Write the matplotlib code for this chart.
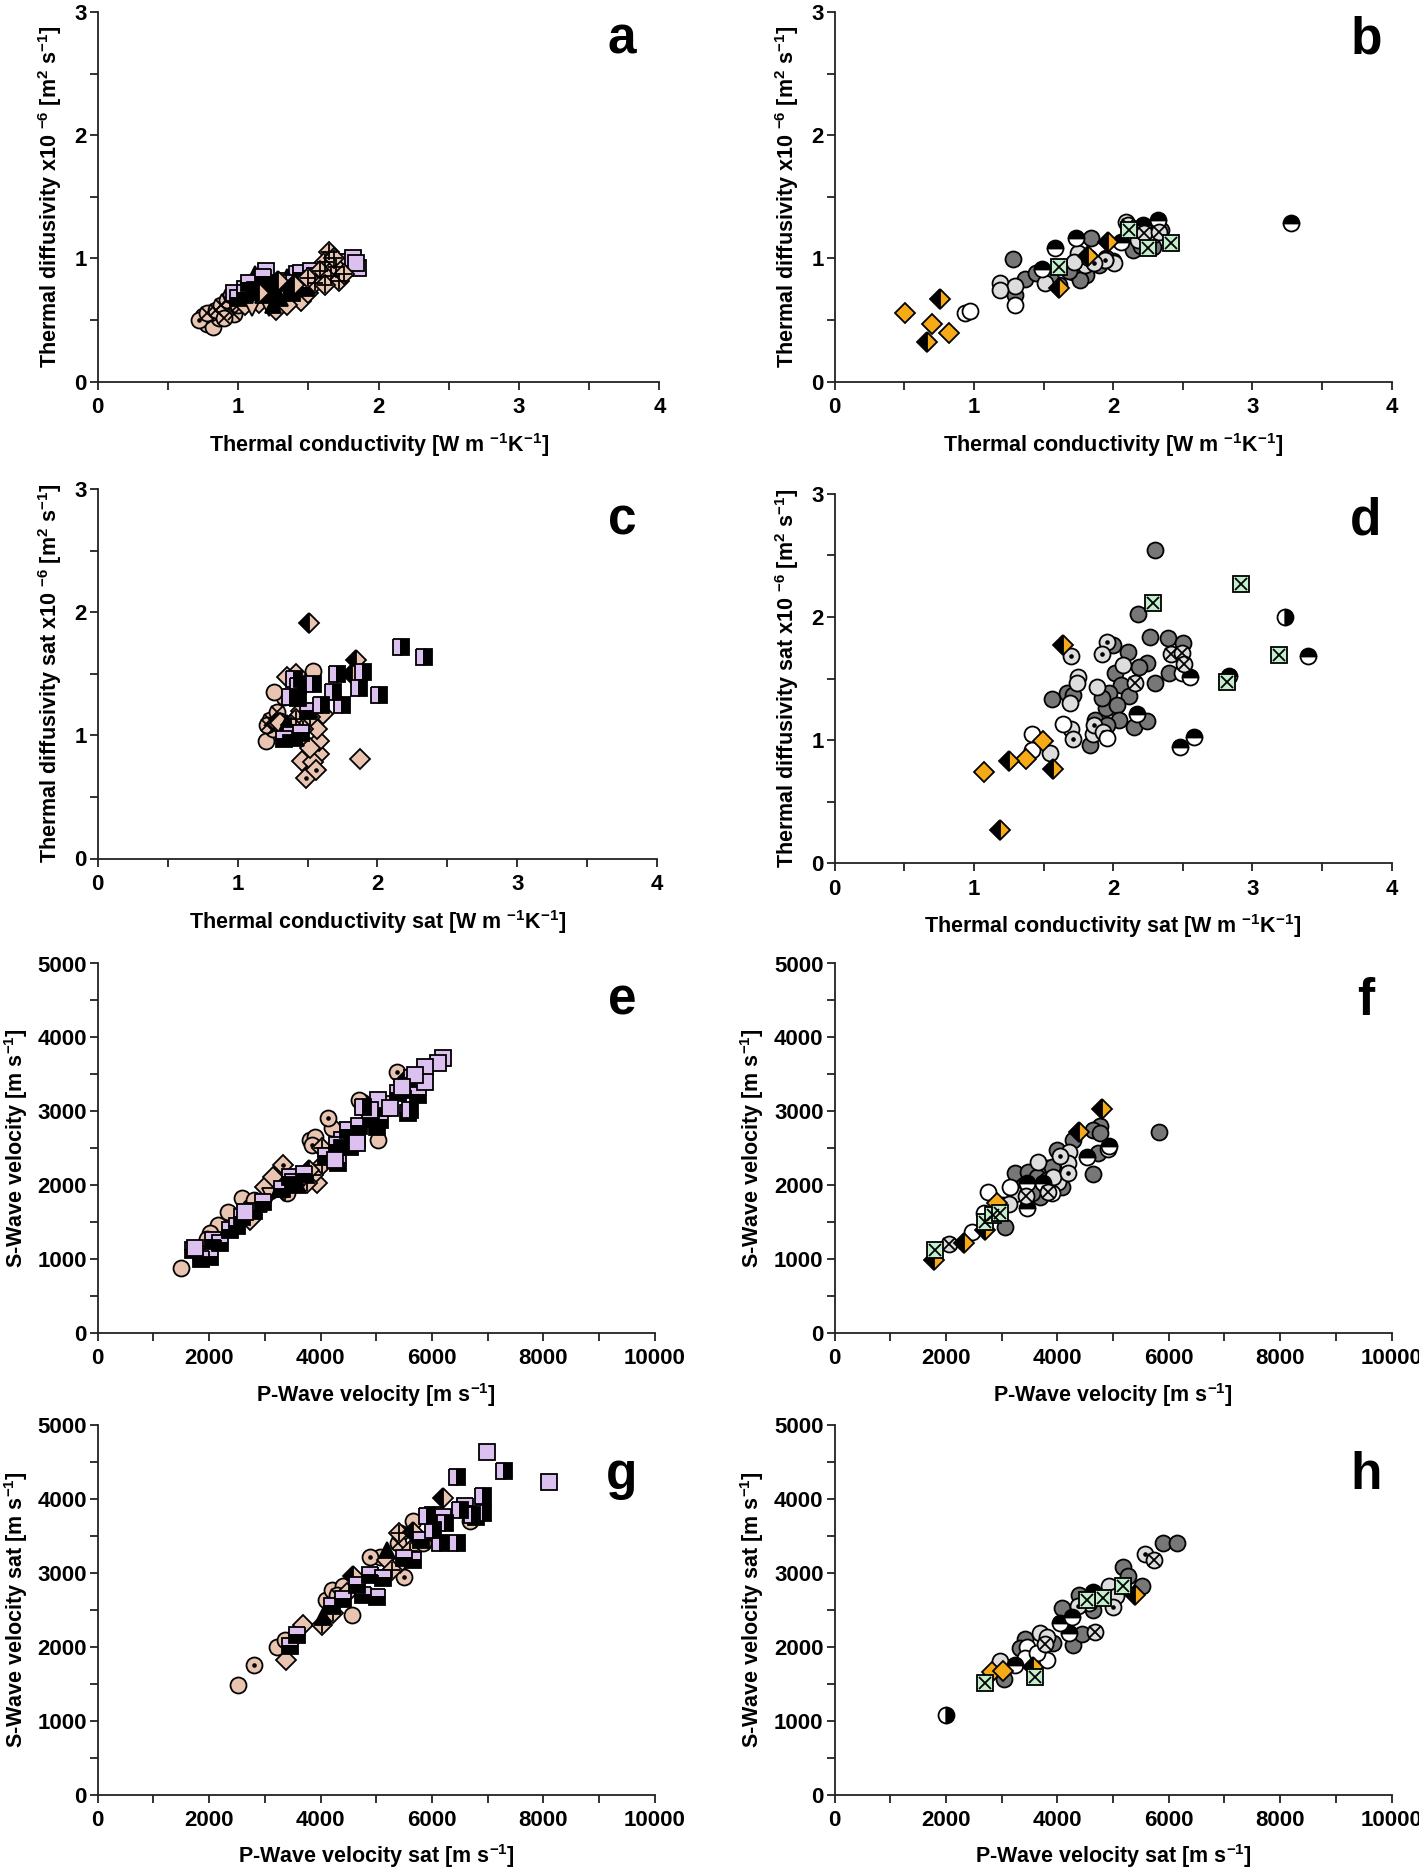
import matplotlib
matplotlib.use('Agg')
import matplotlib.pyplot as plt
from matplotlib.ticker import MultipleLocator

plt.rcParams['font.family'] = ['Liberation Sans', 'DejaVu Sans']
plt.rcParams['font.weight'] = 'bold'
plt.rcParams['mathtext.default'] = 'regular'

# colours of the sample groups
TAN = '#e9c5b1'
LAV = '#dcc0ef'
DGREY = '#777777'
LGREY = '#dddddd'
ORANGE = '#f6ab16'
GREEN = '#c3efcd'

# ---------------- data ----------------
# panel a : thermal diffusivity vs thermal conductivity (dry), group 1
a_circ = ([0.78, 0.82, 0.86, 0.75, 0.93], [0.47, 0.44, 0.52, 0.53, 0.60])
a_circ_dot = ([0.72, 0.80], [0.50, 0.56])
a_circ_x = ([0.78, 0.84, 0.88, 0.92, 0.97, 1.00, 0.90, 0.95], [0.56, 0.58, 0.62, 0.66, 0.55, 0.62, 0.52, 0.70])
a_dia = ([1.15, 1.27, 1.45, 1.35, 1.05, 1.50], [0.64, 0.58, 0.65, 0.62, 0.62, 0.72])
a_dia_plus = ([1.65, 1.62, 1.58, 1.66, 1.72, 1.70, 1.55, 1.62, 1.75, 1.50, 1.68], [1.05, 0.97, 0.90, 0.86, 0.82, 0.93, 0.80, 0.78, 0.87, 0.84, 1.00])
a_tri_dn = ([1.10, 1.20, 1.28, 1.22, 1.32], [0.60, 0.70, 0.78, 0.60, 0.74])
a_tri_up = ([1.12, 1.18, 1.25, 1.30, 1.10, 1.35, 1.45, 1.20, 1.05], [0.87, 0.70, 0.62, 0.68, 0.78, 0.85, 0.82, 0.80, 0.70])
a_dia_half = ([1.28, 1.60, 1.40, 1.15], [0.82, 0.90, 0.78, 0.72])
a_sq_top = ([1.00, 1.08, 1.12, 1.18, 1.30, 1.45, 1.48, 1.38, 1.58, 1.25, 1.52, 1.05, 1.40, 1.55, 1.22],
            [0.68, 0.80, 0.74, 0.85, 0.80, 0.88, 0.76, 0.72, 0.83, 0.73, 0.90, 0.72, 0.80, 0.86, 0.78])
a_sq = ([0.97, 1.05, 1.20, 1.35, 1.42, 1.60, 1.78, 1.82, 1.85, 1.84], [0.72, 0.75, 0.90, 0.82, 0.87, 0.90, 0.97, 1.00, 0.92, 0.96])

# panel b : thermal diffusivity vs thermal conductivity (dry), group 2
b_dark = ([1.28, 1.365, 1.449, 1.294, 1.614, 1.711, 1.807, 1.902, 2.142, 2.285, 2.345, 1.759, 1.843, 1.55, 1.68, 2.00, 1.95, 2.20],
          [0.996, 0.83, 0.879, 0.703, 0.785, 0.893, 0.866, 0.947, 1.069, 1.096, 1.231, 0.825, 1.163, 0.86, 0.90, 0.98, 1.00, 1.10])
b_light = ([1.186, 1.294, 1.509, 1.795, 1.748, 2.01, 1.939, 1.186, 2.094, 2.285, 1.72, 1.83, 2.18],
           [0.798, 0.777, 0.798, 0.947, 1.042, 0.96, 0.988, 0.744, 1.299, 1.19, 0.97, 1.00, 1.15])
b_dot = ([1.94, 1.86], [0.99, 0.96])
b_white = ([0.935, 0.971, 1.294], [0.56, 0.576, 0.622])
b_half = ([3.276, 1.58, 1.735, 2.058, 2.321, 2.213, 1.49], [1.29, 1.082, 1.163, 1.136, 1.312, 1.272, 0.91])
b_cx = ([2.225, 2.333, 2.11], [1.204, 1.217, 1.27])
b_odia = ([0.506, 0.70, 0.823], [0.555, 0.468, 0.392])
b_ohalf = ([0.756, 0.661, 1.962, 1.611, 1.82], [0.668, 0.319, 1.136, 0.758, 1.02])
b_green = ([1.611, 2.111, 2.249, 2.416], [0.928, 1.231, 1.082, 1.128])

# panel c : saturated thermal properties, group 1
c_circ = ([1.33, 1.54, 1.35, 1.20, 1.26], [1.31, 1.52, 1.02, 0.95, 1.35])
c_circ_x = ([1.23, 1.28, 1.25, 1.21, 1.30], [1.125, 1.19, 1.05, 1.08, 1.12])
c_dia = ([1.875, 1.46, 1.58, 1.54, 1.58, 1.57, 1.42, 1.35, 1.61, 1.30, 1.45, 1.52],
         [0.805, 0.79, 0.85, 0.78, 0.95, 1.05, 1.50, 1.47, 1.17, 1.10, 1.20, 0.90])
c_dia_dot = ([1.49, 1.56], [0.65, 0.72])
c_dia_plus = ([1.42, 1.52, 1.47, 1.38], [1.13, 1.15, 1.05, 1.08])
c_tri_up = ([1.42, 1.35], [0.98, 1.10])
c_sq_top = ([1.38, 1.45, 1.33, 1.50], [1.00, 1.02, 0.97, 1.20])
c_dia_half = ([1.513, 1.85, 1.82], [1.91, 1.61, 1.50])
c_sq_half = ([2.17, 2.336, 2.01, 1.90, 1.87, 1.744, 1.71, 1.40, 1.54, 1.43, 1.375, 1.43, 1.60, 1.68],
             [1.72, 1.634, 1.33, 1.51, 1.38, 1.247, 1.50, 1.46, 1.42, 1.30, 1.31, 1.40, 1.25, 1.35])

# panel d : saturated thermal properties, group 2
d_dark = ([2.301, 2.181, 2.265, 2.397, 2.50, 2.109, 2.241, 2.188, 2.014, 2.054, 1.973, 2.117, 1.949, 2.026, 2.045, 2.15, 2.241, 1.834,
           1.559, 1.666, 1.714, 2.301, 2.404, 1.87, 1.954, 1.918, 2.002],
          [2.543, 2.023, 1.839, 1.826, 1.785, 1.718, 1.623, 1.596, 1.542, 1.447, 1.379, 1.358, 1.258, 1.285, 1.163, 1.104, 1.158, 0.96,
           1.331, 1.379, 1.366, 1.461, 1.547, 1.163, 1.122, 1.339, 1.772])
d_light = ([2.074, 1.75, 1.887, 1.69, 1.695, 1.853, 1.547, 1.743], [1.609, 1.515, 1.434, 1.298, 1.087, 1.049, 0.898, 1.46])
d_dot = ([1.954, 1.923, 1.695, 1.714, 1.865, 1.93], [1.799, 1.699, 1.682, 1.006, 1.122, 1.068])
d_white = ([1.415, 1.415, 1.642, 1.954, 2.493], [1.049, 0.919, 1.13, 1.014, 1.542])
d_half = ([3.403, 2.481, 2.584, 2.174, 2.552, 2.835], [1.682, 0.946, 1.028, 1.209, 1.515, 1.523])
d_halfr = ([3.235], [1.996])
d_cx = ([2.414, 2.493, 2.511, 2.157], [1.699, 1.709, 1.617, 1.461])
d_odia = ([1.494, 1.374, 1.07], [0.995, 0.844, 0.745])
d_ohalf = ([1.638, 1.255, 1.571, 1.19], [1.772, 0.833, 0.762, 0.27])
d_green = ([2.284, 2.916, 3.194, 2.816], [2.11, 2.264, 1.69, 1.468])

# panel e : S-wave vs P-wave velocity (dry), group 1
e_circ = ([1489, 2584, 2344, 2165, 2015, 3811, 4738, 4200, 5037, 3392, 2733, 4768, 3086, 1955, 3900, 4700, 2800],
          [877, 1824, 1643, 1463, 1350, 2613, 3131, 2770, 2613, 1891, 1711, 3064, 1927, 1269, 2650, 3150, 1800])
e_circ_dot = ([5367, 4140, 3841], [3537, 2906, 2545])
e_dia = ([3003, 3152, 2733, 3930], [1982, 2117, 1531, 2027])
e_dia_dot = ([3332], [2275])
e_dia_x = ([4020, 4020, 3871, 3751], [2500, 2275, 2139, 2027])
e_tri_dn = ([3100, 3350, 3700], [1850, 1900, 2100])
e_tri_up = ([3250, 3450, 3600, 2900], [1950, 2050, 2000, 1750])
e_dia_half = ([3400, 3800, 5500], [2000, 2200, 3400])
e_sq_top = ([1716, 2015, 2075, 2374, 2584, 2973, 3452, 4319, 4379, 4528, 4648, 5007, 5127, 5576, 5486, 5756, 5067, 1850, 2200,
             2500, 2800, 3300, 3500, 3700, 4100, 4300, 4500, 4700, 4900, 5200, 5400, 5650],
            [1125, 1035, 1260, 1395, 1576, 1779, 2117, 2297, 2613, 2522, 2635, 2793, 3041, 2973, 3289, 3221, 2883, 1000, 1220,
             1450, 1650, 1950, 2050, 2150, 2400, 2550, 2750, 2800, 2900, 3100, 3250, 3450])
e_sq = ([6205, 6115, 5876, 5876, 5696, 5037, 5247, 5456, 4648, 4888, 4260, 1750, 2650],
        [3717, 3650, 3604, 3401, 3491, 3154, 3041, 3334, 2567, 3018, 2342, 1150, 1640])
e_sq_half = ([5606, 4768], [3018, 3064])

# panel f : S-wave vs P-wave velocity (dry), group 2
f_dark = ([5829, 4644, 4764, 4644, 4764, 4285, 3986, 3238, 3477, 3806, 3896, 3058, 3627, 3686, 4076, 4734, 3806, 3028, 3400, 3550],
          [2726, 2149, 2803, 2749, 2704, 2614, 2478, 2163, 2185, 2230, 2253, 1441, 2118, 1847, 1983, 2433, 2073, 1735, 2000, 1900])
f_light = ([4213, 4195, 4901, 3657, 4016, 3238, 3136, 3926], [2456, 2307, 2492, 2321, 2050, 1883, 1748, 2118])
f_dot = ([4046, 4195], [2397, 2172])
f_white = ([2747, 2460, 2681, 3148, 3896], [1906, 1374, 1622, 1983, 1892])
f_half = ([3447, 3447, 4524, 4931, 3746], [2037, 1689, 2388, 2532, 2028])
f_cx = ([2058, 3435, 3824], [1207, 1861, 1915])
f_odia = ([2908], [1757])
f_ohalf = ([4794, 4387, 2328, 1783, 2699], [3028, 2717, 1225, 991, 1396])
f_green = ([1801, 2699, 2849, 2968], [1126, 1509, 1599, 1622])

# panel g : saturated S-wave vs P-wave velocity, group 1
g_circ = ([2523, 3224, 3361, 4097, 4199, 4558, 4408, 5067, 5845, 6683, 5426, 5666],
          [1485, 1994, 2093, 2634, 2770, 2431, 2815, 3220, 3401, 3694, 3536, 3707])
g_circ_dot = ([2805, 4887, 5498], [1755, 3220, 2941])
g_circ_x = ([5400, 4300], [3400, 2700])
g_dia = ([3690, 3379, 4469, 5187, 5426], [2296, 1823, 2724, 3175, 3130])
g_dia_x = ([4020, 4229, 5277, 5606, 5414], [2296, 2454, 3040, 3288, 3536])
g_tri_up = ([4050, 5187], [2409, 3310])
g_dia_half = ([6204, 5666, 4588], [4009, 3558, 2950])
g_sq_top = ([3571, 3451, 4887, 5007, 4768, 4648, 5127, 5666, 6025, 4200, 4400, 5500, 5800, 6200, 6600, 6800],
            [2161, 2003, 2972, 2679, 2702, 2837, 2927, 3175, 3784, 2550, 2650, 3200, 3450, 3750, 3900, 3750])
g_sq_half = ([6443, 7293, 6443, 6922, 6922, 6144, 6025, 5905, 6234, 6503, 6713],
             [4293, 4383, 3401, 4032, 3806, 3401, 3581, 3770, 3680, 3851, 3784])
g_sq = ([6982, 8107], [4640, 4221])

# panel h : saturated S-wave vs P-wave velocity, group 2
h_dark = ([5889, 6140, 5171, 5512, 3040, 4076, 4393, 4285, 4435, 3417, 3327, 3926, 4644, 5273],
          [3409, 3409, 3075, 2822, 1560, 2520, 2701, 2025, 2173, 2101, 1980, 2047, 2498, 2958])
h_light = ([4931, 5051, 4572, 2968, 3686, 3806], [2822, 2687, 2597, 1813, 2182, 2137])
h_dot = ([5572, 4991, 4375], [3255, 2543, 2552])
h_white = ([3447, 3806, 3417, 3627], [2002, 1822, 1844, 1912])
h_half = ([4046, 4255, 4213, 3238, 4644], [2327, 2399, 2191, 1754, 2746])
h_halfr = ([1999], [1080])
h_cx = ([5733, 4674, 3776], [3174, 2205, 2038])
h_odia = ([2819, 3028], [1664, 1677])
h_ohalf = ([5392, 3567], [2701, 1732])
h_green = ([2699, 3597, 4812, 5171, 4524], [1515, 1587, 2656, 2822, 2633])

# ---------------- marker styles ----------------
STYLE = {
    'circ': dict(marker='o', fc=TAN),
    'circ_dot': dict(marker='o', fc=TAN, inner='.'),
    'circ_x': dict(marker='o', fc=TAN, inner='x'),
    'dia': dict(marker='D', fc=TAN),
    'dia_dot': dict(marker='D', fc=TAN, inner='.'),
    'dia_plus': dict(marker='D', fc=TAN, inner='+'),
    'dia_x': dict(marker='D', fc=TAN, inner='+'),
    'dia_half': dict(marker='D', fc='black', alt=TAN, fill='left'),
    'tri_up': dict(marker='^', fc='black'),
    'tri_dn': dict(marker='v', fc=TAN),
    'sq': dict(marker='s', fc=LAV),
    'sq_top': dict(marker='s', fc=LAV, alt='black', fill='top'),
    'sq_half': dict(marker='s', fc=LAV, alt='black', fill='left'),
    'dark': dict(marker='o', fc=DGREY),
    'light': dict(marker='o', fc=LGREY),
    'dot': dict(marker='o', fc=LGREY, inner='.'),
    'white': dict(marker='o', fc='white'),
    'half': dict(marker='o', fc='black', alt='white', fill='top'),
    'halfr': dict(marker='o', fc='white', alt='black', fill='left'),
    'cx': dict(marker='o', fc=LGREY, inner='x'),
    'odia': dict(marker='D', fc=ORANGE),
    'ohalf': dict(marker='D', fc='black', alt=ORANGE, fill='left'),
    'green': dict(marker='s', fc=GREEN, inner='x'),
}
INNER_MS = {'.': 4, 'x': 8, '+': 11}


def draw(ax, data, key):
    st = STYLE[key]
    xs, ys = data
    ms = 11.5
    if st['marker'] == 's':
        ms = 11
    elif st['marker'] == 'D':
        ms = 10.5
    elif st['marker'] in '^v':
        ms = 12
    kw = dict(ls='none', marker=st['marker'], ms=ms, mfc=st['fc'], mec='black', mew=1.3, clip_on=False)
    if 'fill' in st:
        kw['fillstyle'] = st['fill']
        kw['markerfacecoloralt'] = st['alt']
    ax.plot(xs, ys, **kw)
    if 'inner' in st:
        m = st['inner']
        ax.plot(xs, ys, ls='none', marker=m, ms=INNER_MS[m], color='black', mew=1.3, clip_on=False)


def style_axes(ax, kind):
    for s in ['top', 'right']:
        ax.spines[s].set_visible(False)
    for s in ['left', 'bottom']:
        ax.spines[s].set_linewidth(1.3)
        ax.spines[s].set_color('#222222')
    if kind == 'thermal':
        ax.set_xlim(0, 4)
        ax.set_ylim(0, 3)
        ax.xaxis.set_major_locator(MultipleLocator(1))
        ax.xaxis.set_minor_locator(MultipleLocator(0.5))
        ax.yaxis.set_major_locator(MultipleLocator(1))
        ax.yaxis.set_minor_locator(MultipleLocator(0.5))
    else:
        ax.set_xlim(0, 10000)
        ax.set_ylim(0, 5000)
        ax.xaxis.set_major_locator(MultipleLocator(2000))
        ax.xaxis.set_minor_locator(MultipleLocator(1000))
        ax.yaxis.set_major_locator(MultipleLocator(1000))
        ax.yaxis.set_minor_locator(MultipleLocator(500))
    ax.tick_params(which='both', direction='out', length=6, width=1.3, color='#222222', labelsize=16)
    ax.tick_params(axis='x', which='both', pad=5)
    ax.tick_params(axis='y', which='both', pad=2)


fig = plt.figure(figsize=(14.19, 18.70), dpi=100)
W, H = 1419.0, 1870.0

# axes boxes in pixels: left, right, bottom, top
boxes = {
    'a': (97.8, 659.4, 381.6, 11.9),
    'b': (834.7, 1391.5, 381.6, 11.9),
    'c': (97.8, 657.0, 858.5, 488.9),
    'd': (834.7, 1391.5, 863.3, 493.7),
    'e': (97.8, 654.6, 1333.1, 963.5),
    'f': (834.7, 1391.5, 1333.1, 963.5),
    'g': (97.8, 654.6, 1794.6, 1424.9),
    'h': (834.7, 1391.5, 1794.6, 1424.9),
}
axes = {}
for k, (l, r, b, t) in boxes.items():
    axes[k] = fig.add_axes([l / W, 1 - b / H, (r - l) / W, (b - t) / H])

panels = {
    'a': [(a_circ, 'circ'), (a_circ_dot, 'circ_dot'), (a_circ_x, 'circ_x'), (a_dia, 'dia'), (a_tri_dn, 'tri_dn'),
          (a_sq, 'sq'), (a_tri_up, 'tri_up'), (a_sq_top, 'sq_top'), (a_dia_half, 'dia_half'), (a_dia_plus, 'dia_plus')],
    'b': [(b_dark, 'dark'), (b_light, 'light'), (b_dot, 'dot'), (b_white, 'white'), (b_half, 'half'), (b_cx, 'cx'),
          (b_odia, 'odia'), (b_ohalf, 'ohalf'), (b_green, 'green')],
    'c': [(c_circ, 'circ'), (c_circ_x, 'circ_x'), (c_dia, 'dia'), (c_dia_dot, 'dia_dot'), (c_dia_plus, 'dia_plus'),
          (c_tri_up, 'tri_up'), (c_sq_top, 'sq_top'), (c_dia_half, 'dia_half'), (c_sq_half, 'sq_half')],
    'd': [(d_dark, 'dark'), (d_light, 'light'), (d_dot, 'dot'), (d_white, 'white'), (d_half, 'half'), (d_halfr, 'halfr'),
          (d_cx, 'cx'), (d_odia, 'odia'), (d_ohalf, 'ohalf'), (d_green, 'green')],
    'e': [(e_circ, 'circ'), (e_circ_dot, 'circ_dot'), (e_dia, 'dia'), (e_dia_dot, 'dia_dot'), (e_dia_x, 'dia_x'),
          (e_tri_dn, 'tri_dn'), (e_tri_up, 'tri_up'), (e_dia_half, 'dia_half'), (e_sq_top, 'sq_top'), (e_sq, 'sq'),
          (e_sq_half, 'sq_half')],
    'f': [(f_dark, 'dark'), (f_light, 'light'), (f_dot, 'dot'), (f_white, 'white'), (f_half, 'half'), (f_cx, 'cx'),
          (f_odia, 'odia'), (f_ohalf, 'ohalf'), (f_green, 'green')],
    'g': [(g_circ, 'circ'), (g_circ_dot, 'circ_dot'), (g_circ_x, 'circ_x'), (g_dia, 'dia'), (g_dia_x, 'dia_x'),
          (g_tri_up, 'tri_up'), (g_dia_half, 'dia_half'), (g_sq_top, 'sq_top'), (g_sq_half, 'sq_half'), (g_sq, 'sq')],
    'h': [(h_dark, 'dark'), (h_light, 'light'), (h_dot, 'dot'), (h_white, 'white'), (h_half, 'half'), (h_halfr, 'halfr'),
          (h_cx, 'cx'), (h_odia, 'odia'), (h_ohalf, 'ohalf'), (h_green, 'green')],
}

ylab_td = r'Thermal diffusivity x10 $^{-6}$ [m$^{2}$ s$^{-1}$]'
ylab_tds = r'Thermal diffusivity sat x10 $^{-6}$ [m$^{2}$ s$^{-1}$]'
xlab_tc = r'Thermal conductivity [W m $^{-1}$K$^{-1}$]'
xlab_tcs = r'Thermal conductivity sat [W m $^{-1}$K$^{-1}$]'
lab_s = r'S-Wave velocity [m s$^{-1}$]'
lab_ss = r'S-Wave velocity sat [m s$^{-1}$]'
lab_p = r'P-Wave velocity [m s$^{-1}$]'
lab_ps = r'P-Wave velocity sat [m s$^{-1}$]'

labels = {
    'a': (xlab_tc, ylab_td, 445, 50),
    'b': (xlab_tc, ylab_td, 445, 787),
    'c': (xlab_tcs, ylab_tds, 922, 50),
    'd': (xlab_tcs, ylab_tds, 926, 787),
    'e': (lab_p, lab_s, 1395, 16),
    'f': (lab_p, lab_s, 1395, 752),
    'g': (lab_ps, lab_ss, 1856, 16),
    'h': (lab_ps, lab_ss, 1856, 752),
}
# panel letter positions (centre x, baseline y) in pixels
letters = {'a': (622, 53), 'b': (1366, 53), 'c': (622, 534), 'd': (1366, 534),
           'e': (622, 1015), 'f': (1366, 1015), 'g': (622, 1489), 'h': (1366, 1489)}

for k, ax in axes.items():
    kind = 'thermal' if k in 'abcd' else 'wave'
    style_axes(ax, kind)
    for data, key in panels[k]:
        draw(ax, data, key)
    xl, yl, xly, ylx = labels[k]
    l, r, b, t = boxes[k]
    fig.text((l + r) / 2 / W, 1 - xly / H, xl, ha='center', va='center', fontsize=15.5, fontweight='bold')
    fig.text(ylx / W, 1 - (b + t) / 2 / H, yl, ha='center', va='center', rotation=90, fontsize=15.5, fontweight='bold')
    lx, ly = letters[k]
    fig.text(lx / W, 1 - ly / H, k, ha='center', va='baseline', fontsize=37, fontweight='bold')

fig.savefig('out.png', dpi=100)
